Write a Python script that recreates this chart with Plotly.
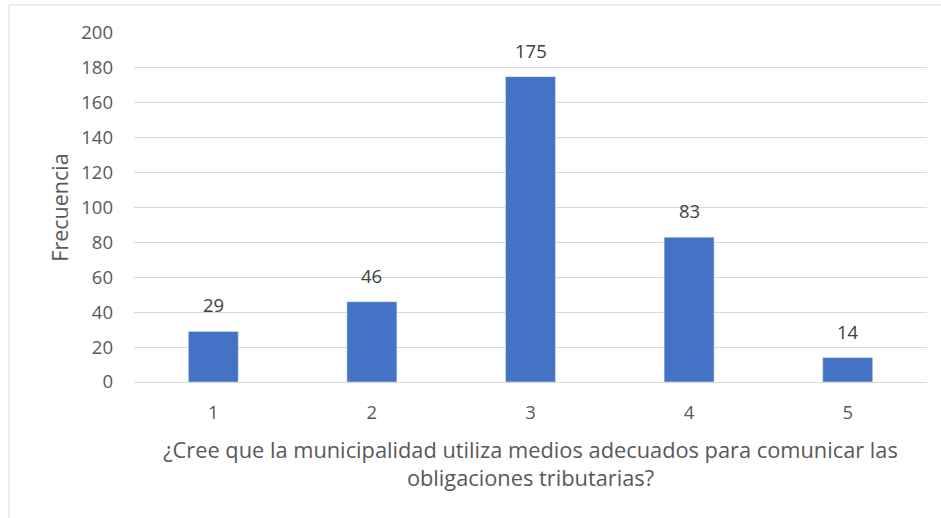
import plotly.graph_objects as go

categorias = [1, 2, 3, 4, 5]
frecuencias = [29, 46, 175, 83, 14]
y_ticks = list(range(0, 201, 20))

fig = go.Figure()
fig.add_trace(go.Bar(
    x=categorias,
    y=frecuencias,
    marker_color="#4472C4",
    width=0.315,
))

# etiquetas de datos encima de cada barra
for c, v in zip(categorias, frecuencias):
    fig.add_annotation(x=c, y=v, text=str(v), showarrow=False,
                       yanchor="bottom", yshift=12,
                       font=dict(size=18.5, color="#404040"))

fig.update_layout(
    width=941, height=518,
    margin=dict(l=134, r=14, t=33, b=136),
    paper_bgcolor="white", plot_bgcolor="white",
    font=dict(family="Open Sans, sans-serif", color="#595959", size=18.5),
    showlegend=False,
    xaxis=dict(
        range=[0.5, 5.5], tickvals=categorias, automargin=False,
        showgrid=False, zeroline=False,
        showline=True, linecolor="#D9D9D9", linewidth=1,
        ticks="", tickfont=dict(size=18.5), ticklabelstandoff=14,
        title=dict(
            text="¿Cree que la municipalidad utiliza medios adecuados para comunicar las<br>obligaciones tributarias?",
            font=dict(size=21.8, color="#595959"), standoff=19,
        ),
    ),
    yaxis=dict(
        range=[0, 200], tickvals=y_ticks, automargin=False,
        showgrid=True, gridcolor="#D9D9D9", gridwidth=1,
        zeroline=False, tickfont=dict(size=18.5), ticklabelstandoff=20,
        title=dict(text="Frecuencia", font=dict(size=21.5, color="#595959"), standoff=6),
    ),
    shapes=[
        dict(type="line", xref="paper", yref="paper", x0=-0.1576, x1=1.1, y0=1.0802, y1=1.0802,
             line=dict(color="#D9D9D9", width=1)),
        dict(type="line", xref="paper", yref="paper", x0=-0.1576, x1=-0.1576, y0=1.0802, y1=-0.5,
             line=dict(color="#D9D9D9", width=1)),
    ],
)

fig.write_html("out.html", config={"displayModeBar": False},
               post_script="document.body.style.margin='0';")
